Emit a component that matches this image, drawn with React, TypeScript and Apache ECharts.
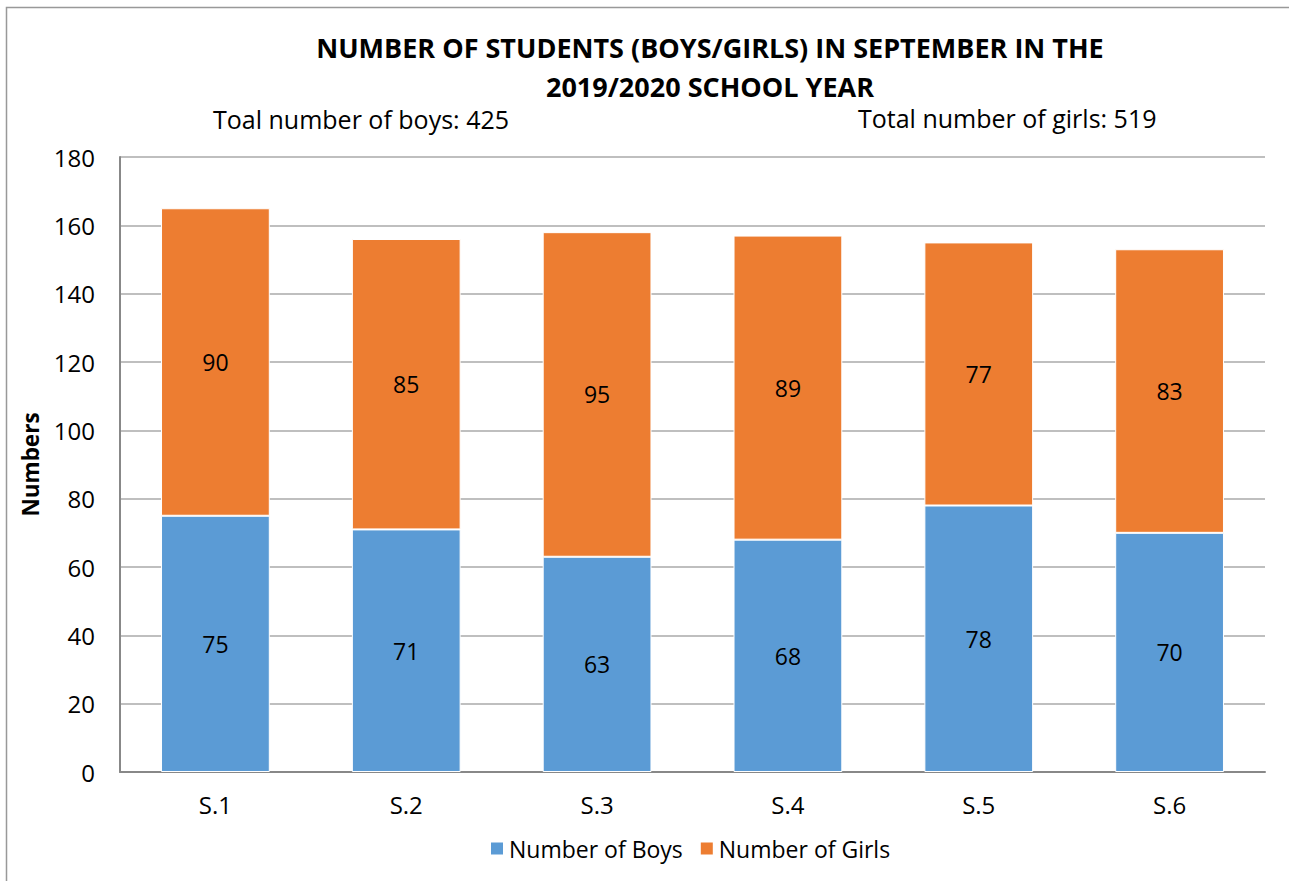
import React, { useEffect, useRef } from "react";
import * as echarts from "echarts";

const categories = ["S.1", "S.2", "S.3", "S.4", "S.5", "S.6"];
const boys = [75, 71, 63, 68, 78, 70];
const girls = [90, 85, 95, 89, 77, 83];
const titleLines = ["NUMBER OF STUDENTS (BOYS/GIRLS) IN SEPTEMBER IN THE", "2019/2020 SCHOOL YEAR"];
const boysNote = "Toal number of boys: 425";
const girlsNote = "Total number of girls: 519";

const FONT = "'Open Sans', 'Liberation Sans', sans-serif";

export default function App() {
  const ref = useRef<HTMLDivElement>(null);
  useEffect(() => {
    if (!ref.current) return;
    const chart = echarts.init(ref.current, null, { renderer: "svg" });
    const label = {
      show: true,
      position: "inside",
      color: "#000",
      fontSize: 23,
      fontFamily: FONT,
    };
    chart.setOption({
      animation: false,
      textStyle: { fontFamily: FONT },
      graphic: [
        {
          type: "polyline",
          shape: { points: [[6.5, 900], [6.5, 7.5], [1300, 7.5]] },
          style: { stroke: "#999", lineWidth: 1.5, fill: "none" },
          silent: true,
        },
        {
          type: "text",
          x: 710,
          y: 47,
          style: { text: titleLines[0], fontSize: 27, fontWeight: "bold", fontFamily: FONT, fill: "#000", align: "center", verticalAlign: "middle" },
        },
        {
          type: "text",
          x: 710,
          y: 86,
          style: { text: titleLines[1], fontSize: 27, fontWeight: "bold", fontFamily: FONT, fill: "#000", align: "center", verticalAlign: "middle" },
        },
        {
          type: "text",
          x: 213,
          y: 119,
          style: { text: boysNote, fontSize: 25, fontFamily: FONT, fill: "#000", align: "left", verticalAlign: "middle" },
        },
        {
          type: "text",
          x: 858,
          y: 118,
          style: { text: girlsNote, fontSize: 25, fontFamily: FONT, fill: "#000", align: "left", verticalAlign: "middle" },
        },
      ],
      grid: { left: 120, right: 24, top: 157, bottom: 109, containLabel: false },
      legend: {
        bottom: 16,
        left: 484,
        itemWidth: 14,
        itemHeight: 14,
        itemGap: 16,
        icon: "rect",
        textStyle: { fontSize: 23, color: "#000", fontFamily: FONT },
        data: ["Number of Boys", "Number of Girls"],
      },
      xAxis: {
        type: "category",
        data: categories,
        axisLine: { lineStyle: { color: "#888", width: 2 } },
        axisTick: { show: false },
        axisLabel: { fontSize: 24, color: "#000", margin: 20, fontFamily: FONT },
      },
      yAxis: {
        type: "value",
        min: 0,
        max: 180,
        interval: 20,
        name: "Numbers",
        nameLocation: "middle",
        nameGap: 78,
        nameRotate: 90,
        nameTextStyle: { fontSize: 22.5, fontWeight: "bold", color: "#000", fontFamily: FONT },
        axisLine: { show: true, lineStyle: { color: "#888", width: 2 } },
        axisTick: { show: false },
        axisLabel: { fontSize: 24, color: "#000", margin: 25, fontFamily: FONT },
        splitLine: { lineStyle: { color: "#aaa", width: 1.5 } },
      },
      series: [
        {
          name: "Number of Boys",
          type: "bar",
          stack: "total",
          data: boys,
          barWidth: "57%",
          itemStyle: { color: "#5B9BD5", borderColor: "#fff", borderWidth: 1 },
          label,
        },
        {
          name: "Number of Girls",
          type: "bar",
          stack: "total",
          data: girls,
          barWidth: "57%",
          itemStyle: { color: "#ED7D31", borderColor: "#fff", borderWidth: 1 },
          label,
        },
      ],
    });
    return () => chart.dispose();
  }, []);
  return (
    <div
      ref={ref}
      style={{ position: "fixed", left: 0, top: 0, width: 1289, height: 881, background: "#fff" }}
    />
  );
}
